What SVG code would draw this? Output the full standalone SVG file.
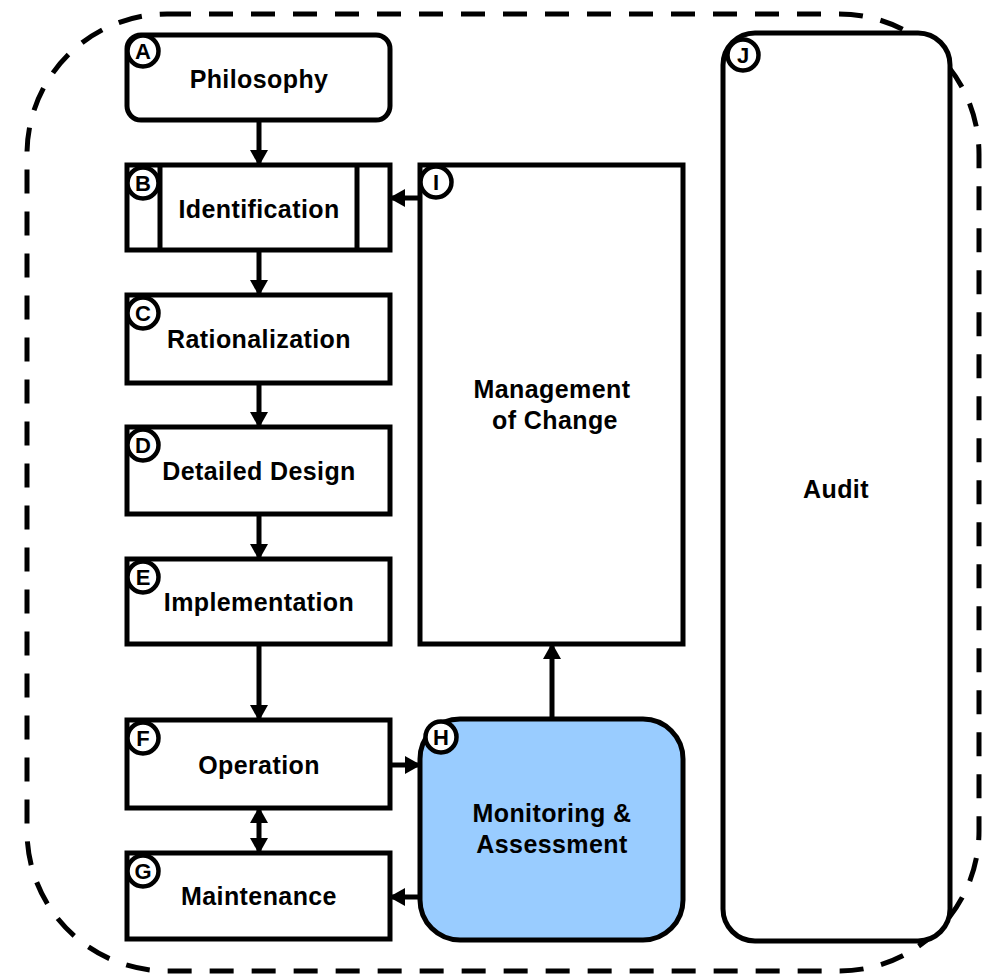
<svg xmlns="http://www.w3.org/2000/svg" width="982" height="976" viewBox="0 0 982 976">
<defs>
<style>
.box{fill:#fff;stroke:#000;stroke-width:5}
.lbl{font-family:"Liberation Sans",Arial,Helvetica,sans-serif;font-weight:bold;font-size:25px;letter-spacing:0.4px;text-anchor:middle;fill:#000}
.badge circle{fill:#fff;stroke:#000;stroke-width:4.5}
.badge text{font-family:"Liberation Sans",Arial,Helvetica,sans-serif;font-weight:bold;font-size:22px;text-anchor:middle;fill:#000}
.conn{stroke:#000;stroke-width:5;fill:none}
</style>
<marker id="ah" viewBox="0 0 16 18" refX="15" refY="9" markerWidth="16" markerHeight="18" markerUnits="userSpaceOnUse" orient="auto-start-reverse">
<path d="M0,0 L16,9 L0,18 Z" fill="#000"/>
</marker>
</defs>
<rect id="boundary" x="27" y="14" width="952" height="957" rx="140" ry="140" fill="none" stroke="#000" stroke-width="5" stroke-dasharray="24 18"/>

<g id="J">
<rect class="box" x="723" y="33" width="227" height="908" rx="32" ry="32"/>
<text class="lbl" x="836" y="498">Audit</text>
<g class="badge"><circle cx="743" cy="55" r="15.5"/><text x="743" y="63">J</text></g>
</g>

<g id="connectors">
<line class="conn" x1="259" y1="120" x2="259" y2="165" marker-end="url(#ah)"/>
<line class="conn" x1="259" y1="250" x2="259" y2="295" marker-end="url(#ah)"/>
<line class="conn" x1="259" y1="383" x2="259" y2="427" marker-end="url(#ah)"/>
<line class="conn" x1="259" y1="514" x2="259" y2="559" marker-end="url(#ah)"/>
<line class="conn" x1="259" y1="644" x2="259" y2="720" marker-end="url(#ah)"/>
<line class="conn" x1="259" y1="808" x2="259" y2="853" marker-start="url(#ah)" marker-end="url(#ah)"/>
<line class="conn" x1="420" y1="198" x2="390" y2="198" marker-end="url(#ah)"/>
<line class="conn" x1="390" y1="765" x2="420" y2="765" marker-end="url(#ah)"/>
<line class="conn" x1="420" y1="897" x2="390" y2="897" marker-end="url(#ah)"/>
<line class="conn" x1="552" y1="719" x2="552" y2="644" marker-end="url(#ah)"/>
</g>

<g id="A">
<rect class="box" x="127" y="35" width="263" height="85" rx="14" ry="14"/>
<text class="lbl" x="259" y="88">Philosophy</text>
<g class="badge"><circle cx="143" cy="51" r="15.5"/><text x="143" y="59">A</text></g>
</g>

<g id="B">
<rect class="box" x="127" y="165" width="263" height="85"/>
<line class="conn" x1="160" y1="165" x2="160" y2="250"/>
<line class="conn" x1="357" y1="165" x2="357" y2="250"/>
<text class="lbl" x="259" y="218">Identification</text>
<g class="badge"><circle cx="143" cy="183" r="15.5"/><text x="143" y="191">B</text></g>
</g>

<g id="C">
<rect class="box" x="127" y="295" width="263" height="88"/>
<text class="lbl" x="259" y="348">Rationalization</text>
<g class="badge"><circle cx="143" cy="313" r="15.5"/><text x="143" y="321">C</text></g>
</g>

<g id="D">
<rect class="box" x="127" y="427" width="263" height="87"/>
<text class="lbl" x="259" y="480">Detailed Design</text>
<g class="badge"><circle cx="143" cy="445" r="15.5"/><text x="143" y="453">D</text></g>
</g>

<g id="E">
<rect class="box" x="127" y="559" width="263" height="85"/>
<text class="lbl" x="259" y="611">Implementation</text>
<g class="badge"><circle cx="143" cy="577" r="15.5"/><text x="143" y="585">E</text></g>
</g>

<g id="F">
<rect class="box" x="127" y="720" width="263" height="88"/>
<text class="lbl" x="259" y="774">Operation</text>
<g class="badge"><circle cx="143" cy="738" r="15.5"/><text x="143" y="746">F</text></g>
</g>

<g id="G">
<rect class="box" x="127" y="853" width="263" height="86"/>
<text class="lbl" x="259" y="905">Maintenance</text>
<g class="badge"><circle cx="143" cy="871" r="15.5"/><text x="143" y="879">G</text></g>
</g>

<g id="I">
<rect class="box" x="420" y="165" width="263" height="479"/>
<text class="lbl" x="552" y="398">Management</text>
<text class="lbl" x="555" y="429">of Change</text>
<g class="badge"><circle cx="436" cy="182" r="15.5"/><text x="436" y="190">I</text></g>
</g>

<g id="H">
<rect class="box" x="420" y="719" width="263" height="221" rx="40" ry="40" style="fill:#99ccff"/>
<text class="lbl" x="552" y="822">Monitoring &amp;</text>
<text class="lbl" x="552" y="853">Assessment</text>
<g class="badge"><circle cx="441" cy="737" r="15.5"/><text x="441" y="745">H</text></g>
</g>
</svg>
